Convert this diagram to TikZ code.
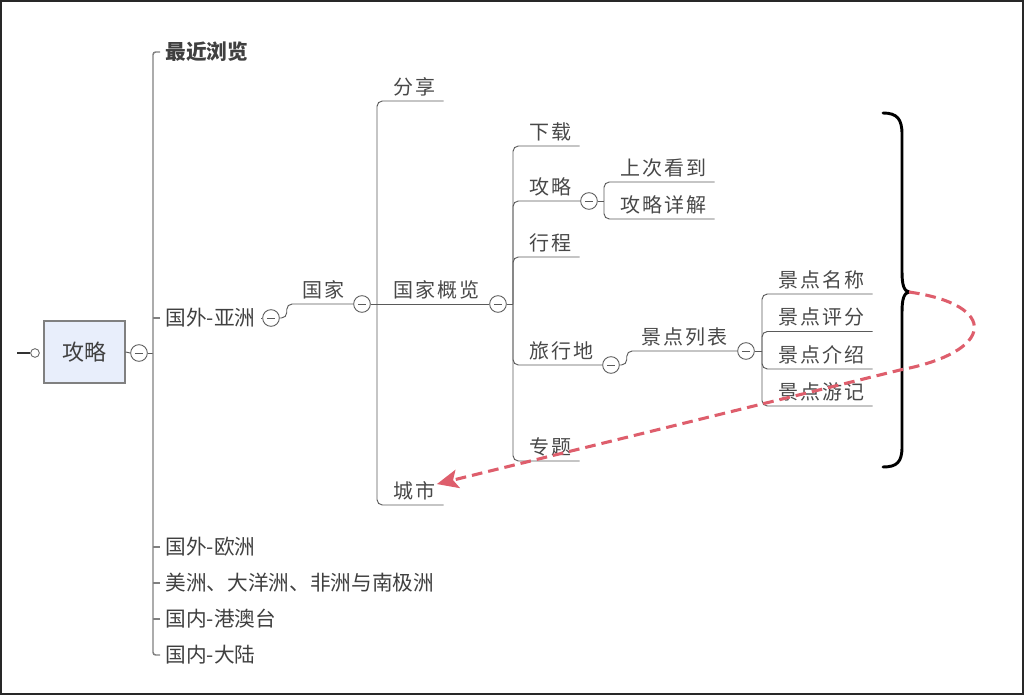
\documentclass[tikz,border=0pt]{standalone}
\usepackage{fontspec}
\setmainfont{Noto Sans CJK SC}
\newfontfamily\rcjk[LetterSpace=10]{Noto Sans CJK SC}
\usetikzlibrary{arrows.meta}
\definecolor{txt}{RGB}{64,64,64}
\definecolor{rtxt}{RGB}{72,72,72}
\definecolor{trunkc}{RGB}{128,128,128}
\definecolor{linec}{RGB}{90,90,90}
\definecolor{rootfill}{RGB}{232,238,251}
\definecolor{rootdraw}{RGB}{128,128,128}
\definecolor{redd}{RGB}{222,94,108}
\definecolor{framec}{RGB}{40,40,40}
\begin{document}
\begin{tikzpicture}[x=0.75pt,y=-0.75pt,
  lt/.style={anchor=west, inner xsep=4pt, inner ysep=3pt, text height=11.8pt, text depth=0pt, font=\fontsize{15.5}{18}\selectfont, text=txt},
  ul/.style={anchor=south west, inner xsep=6pt, inner ysep=4.8pt, text height=11.4pt, text depth=0pt, font=\rcjk\fontsize{15}{18}\selectfont, text=rtxt},
  mid/.style={anchor=south, inner xsep=2pt, inner ysep=4.8pt, text height=11.4pt, text depth=0pt, font=\rcjk\fontsize{15}{18}\selectfont, text=rtxt},
  col/.style={circle, draw=linec, fill=white, line width=0.65pt, minimum size=12.5pt, inner sep=0pt,
    path picture={\draw[linec, line width=0.65pt] ([xshift=3.2pt]path picture bounding box.west) -- ([xshift=-3.2pt]path picture bounding box.east);}},
  conn/.style={draw=linec, line width=0.7pt, rounded corners=4pt},
  trunk/.style={draw=trunkc, line width=1.1pt, rounded corners=2pt},
  rootbox/.style={draw=rootdraw, fill=rootfill, line width=0.8pt, minimum width=60.75pt, minimum height=46.5pt, inner sep=0pt, font=\fontsize{16.5}{20}\selectfont, text=txt},
  brace/.style={draw=black, line width=2.2pt, line cap=round},
  redarrow/.style={draw=redd, line width=2.3pt, dash pattern=on 8pt off 4.5pt, -{Stealth[length=16pt,width=14pt,inset=3.5pt]}}
]
\useasboundingbox (0,0) rectangle (1024,695);
\draw[framec, line width=1.5pt] (1,1) rectangle (1023,694);

% root
\node[rootbox] (root) at (84.5,352) {攻略};
\node[circle, draw=linec, fill=white, line width=0.6pt, minimum size=6.5pt, inner sep=0pt] (sc) at (35,353) {};
\coordinate (stub) at (17,353);
\draw[draw=black!80, line width=1.5pt] (stub) -- (sc.west);
\node[col] (c0) at (139,353) {};
\coordinate (j0) at (153,353);
\draw[conn] (root.east) -- (c0.west);
\draw[conn] (c0.east) -- (j0);

% root children
\node[lt, font=\fontsize{15.5}{18}\selectfont\bfseries] (zjll) at (160,52) {最近浏览};
\node[lt] (asia) at (160,318) {国外-亚洲};
\node[lt] (eu) at (160,547) {国外-欧洲};
\node[lt] (am) at (160,583) {美洲、大洋洲、非洲与南极洲};
\node[lt] (gat) at (160,619) {国内-港澳台};
\node[lt] (dl) at (160,655) {国内-大陆};
\draw[trunk] (j0) |- (zjll.west);
\draw[trunk] (j0) |- (dl.west);
\draw[trunk] (asia.west -| j0) -- (asia.west);
\draw[trunk] (eu.west -| j0) -- (eu.west);
\draw[trunk] (am.west -| j0) -- (am.west);
\draw[trunk] (gat.west -| j0) -- (gat.west);

% 国外-亚洲 -> 国家
\node[col] (c1) at (271,318) {};
\node[col] (c2) at (362,304) {};
\draw[conn] (asia.east) -- (c1.west);
\draw[conn] (c1.east) -- ++(7,0) |- (c2.west);
\node[mid] (gj) at (323,304) {国家};

% 国家 children
\coordinate (j2) at (377,304);
\draw[conn] (c2.east) -- (j2);
\node[ul] (fx) at (385,101) {分享};
\node[ul] (gjgl) at (385,304) {国家概览};
\node[ul] (cs) at (385,505) {城市};
\node[col] (c3) at (498,304) {};
\draw[conn] (j2) |- (fx.south east);
\draw[conn] (j2) -- (c3.west);
\draw[conn] (j2) |- (cs.south east);

% 国家概览 children
\coordinate (j3) at (513,304);
\draw[conn] (c3.east) -- (j3);
\node[ul] (xz) at (521,146) {下载};
\node[ul] (gl) at (521,201) {攻略};
\node[ul] (xc) at (521,257) {行程};
\node[ul] (lxd) at (521,365) {旅行地};
\node[ul] (zt) at (521,461) {专题};
\node[col] (c4) at (589,201) {};
\node[col] (c5) at (611,365) {};
\draw[conn] (j3) |- (xz.south east);
\draw[conn] (j3) |- (c4.west);
\draw[conn] (j3) |- (xc.south east);
\draw[conn] (j3) |- (c5.west);
\draw[conn] (j3) |- (zt.south east);

% 攻略 children
\coordinate (j4) at (604,201);
\draw[conn] (c4.east) -- (j4);
\node[ul] (sckd) at (612,182) {上次看到};
\node[ul] (glxj) at (612,219) {攻略详解};
\draw[conn] (j4) |- (sckd.south east);
\draw[conn] (j4) |- (glxj.south east);

% 旅行地 -> 景点列表
\node[col] (c6) at (746,351) {};
\draw[conn] (c5.east) -- ++(7,0) |- (c6.west);
\node[mid] (jdlb) at (684,351) {景点列表};
\coordinate (j6) at (762,351);
\draw[conn] (c6.east) -- (j6);
\node[ul] (mc) at (770,294) {景点名称};
\node[ul] (pf) at (770,331.5) {景点评分};
\node[ul] (js) at (770,369) {景点介绍};
\node[ul] (yj) at (770,406) {景点游记};
\draw[conn] (j6) |- (mc.south east);
\draw[conn] (j6) |- (pf.south east);
\draw[conn] (j6) |- (js.south east);
\draw[conn] (j6) |- (yj.south east);

% brace
\coordinate (tip) at (909,292);
\draw[brace] (883,113) .. controls (897,113) and (902,119) .. (902,134) -- (902,272)
  .. controls (902,285) and (904,291) .. (tip)
  .. controls (904,293) and (902,299) .. (902,312) -- (902,447)
  .. controls (902,462) and (897,467) .. (883,467);

% red dashed arrow
\coordinate (bend) at (900,370);
\draw[redarrow] (tip) .. controls (1000,305) and (995,352) .. (bend) -- ([xshift=-5pt,yshift=5pt]cs.east);
\end{tikzpicture}
\end{document}
